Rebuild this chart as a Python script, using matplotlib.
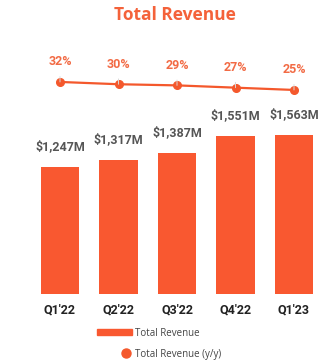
import matplotlib.pyplot as plt
from matplotlib.patches import Patch
from matplotlib.lines import Line2D

quarters = ["Q1'22", "Q2'22", "Q3'22", "Q4'22", "Q1'23"]
revenue = [1247, 1317, 1387, 1551, 1563]  # $M
growth = [32, 30, 29, 27, 25]  # y/y %

BAR = "#F95830"
LINE = "#F4582C"
LABEL_ORANGE = "#F26B45"

plt.rcParams["font.family"] = ["Roboto", "DejaVu Sans"]

fig = plt.figure(figsize=(3.29, 3.64), dpi=100)
ax = fig.add_axes([30.75 / 329, 70 / 364, 292.5 / 329, 254 / 364])
x = range(len(quarters))

bars = ax.bar(x, revenue, width=0.65, color=BAR)
for b, v in zip(bars, revenue):
    ax.annotate(f"${v:,}M", (b.get_x() + b.get_width() / 2, v),
                xytext=(0, 14.5), textcoords="offset points",
                ha="center", va="center", fontsize=9, fontweight="bold",
                color="#555555")
ax.set_xlim(-0.5, 4.5)
ax.set_ylim(0, 2495)
ax.set_xticks(list(x), quarters, fontsize=9, fontweight="bold", color="#222222")
ax.tick_params(axis="x", length=0, pad=6.5)
ax.set_yticks([])
for s in ax.spines.values():
    s.set_visible(False)

ax2 = ax.twinx()
ax2.plot(x, growth, color=LINE, lw=1.6, marker="o", ms=5.5)
for i, g in zip(x, growth):
    ax2.annotate(f"{g}%", (i, g), xytext=(0, 14.5), textcoords="offset points",
                 ha="center", va="center", fontsize=9, fontweight="bold",
                 color=LABEL_ORANGE,
                 arrowprops=dict(arrowstyle="-", color="#d8d8d8", lw=0.7,
                                 shrinkA=4, shrinkB=0))
ax2.set_ylim(-153.5, 68.7)
ax2.set_yticks([])
for s in ax2.spines.values():
    s.set_visible(False)

fig.text(174.5 / 329, 1 - 15 / 364, "Total Revenue", ha="center", va="center",
         fontsize=12.5, fontweight="bold", color="#F4623A",
         family=["Open Sans", "DejaVu Sans"])

fig.legend(handles=[Patch(color=BAR)], labels=["Total Revenue"],
           loc="center left", bbox_to_anchor=(92 / 329, 1 - 333 / 364),
           frameon=False, borderpad=0, fontsize=7, handlelength=3.6,
           handleheight=0.5, handletextpad=0.35, labelcolor="#444444",
           prop={"family": ["Open Sans", "DejaVu Sans"], "size": 7})
fig.legend(handles=[Line2D([], [], ls="none", marker="o", ms=6.5, color=LINE)],
           labels=["Total Revenue (y/y)"],
           loc="center left", bbox_to_anchor=(115.8 / 329, 1 - 354 / 364),
           frameon=False, borderpad=0, handlelength=1.0,
           handletextpad=0.5, labelcolor="#444444",
           prop={"family": ["Open Sans", "DejaVu Sans"], "size": 7})

fig.savefig("out.png", dpi=100)
